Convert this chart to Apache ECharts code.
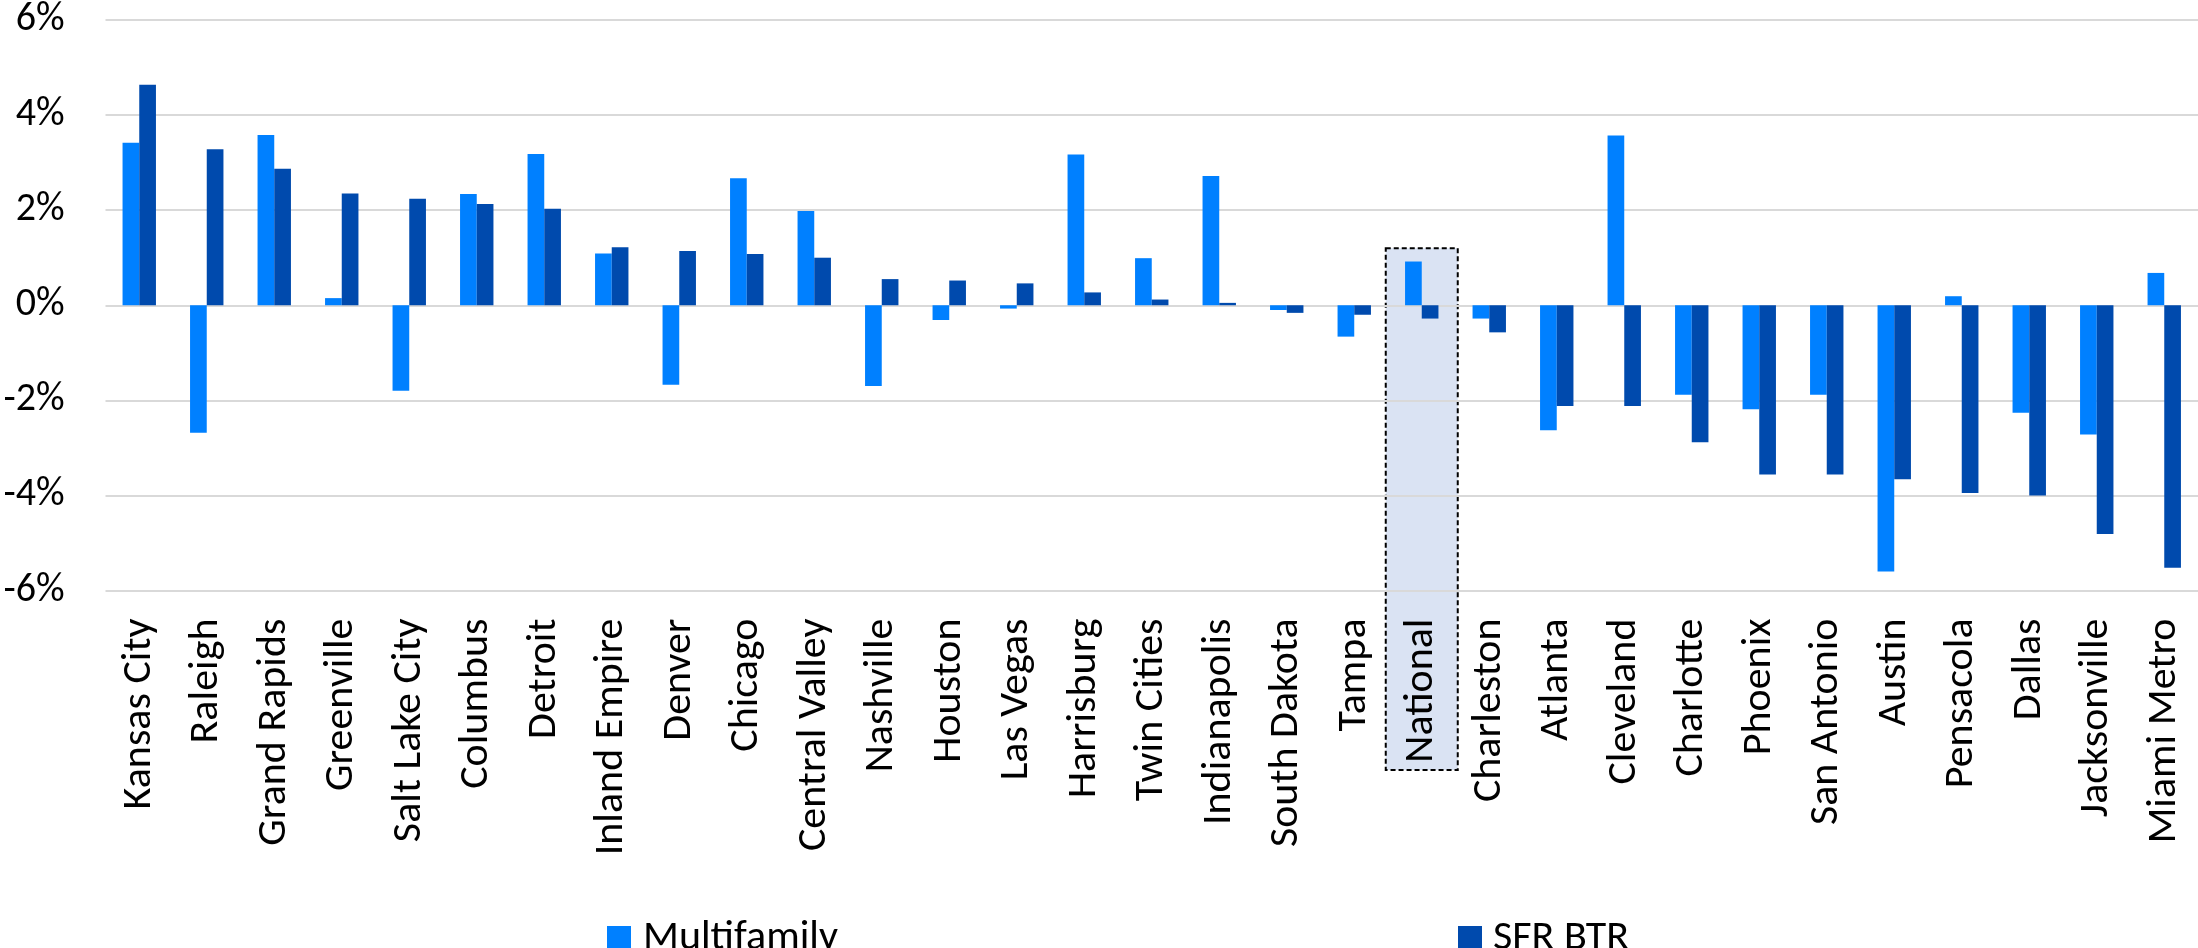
<!DOCTYPE html>
<html>
<head>
<meta charset="utf-8">
<script src="https://cdn.jsdelivr.net/npm/echarts@6/dist/echarts.min.js"></script>
<style>
  html, body { margin: 0; padding: 0; background: #ffffff; }
  #chart { width: 2198px; height: 948px; }
</style>
</head>
<body>
<div id="chart"></div>
<script>
// Markets, ordered as shown along the category axis
const categories = [
  'Kansas City', 'Raleigh', 'Grand Rapids', 'Greenville', 'Salt Lake City',
  'Columbus', 'Detroit', 'Inland Empire', 'Denver', 'Chicago',
  'Central Valley', 'Nashville', 'Houston', 'Las Vegas', 'Harrisburg',
  'Twin Cities', 'Indianapolis', 'South Dakota', 'Tampa', 'National',
  'Charleston', 'Atlanta', 'Cleveland', 'Charlotte', 'Phoenix',
  'San Antonio', 'Austin', 'Pensacola', 'Dallas', 'Jacksonville', 'Miami Metro'
];

// Rent growth, percent
const multifamily = [
  3.42, -2.68, 3.58, 0.15, -1.80,
  2.34, 3.18, 1.09, -1.67, 2.67,
  1.98, -1.70, -0.31, -0.07, 3.17,
  0.99, 2.72, -0.10, -0.66, 0.92,
  -0.28, -2.63, 3.57, -1.88, -2.19,
  -1.88, -5.60, 0.19, -2.26, -2.72, 0.68
];

const sfrBtr = [
  4.64, 3.28, 2.87, 2.35, 2.24,
  2.13, 2.03, 1.22, 1.14, 1.08,
  1.00, 0.55, 0.52, 0.46, 0.27,
  0.12, 0.05, -0.16, -0.20, -0.28,
  -0.57, -2.12, -2.12, -2.88, -3.56,
  -3.56, -3.66, -3.95, -4.00, -4.81, -5.52
];

// Value axis range and step
const yMin = -6;
const yMax = 6;
const yStep = 2;

// Category singled out with a shaded, dashed frame
const highlighted = 'National';
const highlightTop = 1.2;

const FONT = 'Carlito, Lato, "Noto Sans", sans-serif';
const LIGHT = '#0080FF';
const DARK = '#004AAD';

const chart = echarts.init(document.getElementById('chart'), null, { renderer: 'canvas' });

chart.setOption({
  animation: false,
  backgroundColor: '#ffffff',
  textStyle: { fontFamily: FONT },
  grid: { left: 105.5, top: 18.5, width: 2095, bottom: 357.5, containLabel: false },
  legend: [
    {
      data: ['Multifamily'],
      left: 602, top: 912,
      itemWidth: 24, itemHeight: 24,
      icon: 'rect',
      textStyle: { fontFamily: FONT, fontSize: 42, color: '#000', padding: [0, 0, 0, 7] }
    },
    {
      data: ['SFR BTR'],
      left: 1453, top: 912,
      itemWidth: 24, itemHeight: 24,
      icon: 'rect',
      textStyle: { fontFamily: FONT, fontSize: 42, color: '#000', padding: [0, 0, 0, 6] }
    }
  ],
  xAxis: {
    type: 'category',
    data: categories,
    position: 'bottom',
    axisLine: { show: false },
    axisTick: { show: false },
    axisLabel: {
      rotate: 90,
      interval: 0,
      margin: 28,
      fontFamily: FONT,
      fontSize: 42,
      color: '#000'
    }
  },
  yAxis: {
    type: 'value',
    min: yMin,
    max: yMax,
    interval: yStep,
    axisLine: { show: false },
    axisTick: { show: false },
    splitLine: { lineStyle: { color: '#D9D9D9', width: 2 } },
    axisLabel: {
      margin: 41,
      fontFamily: FONT,
      fontSize: 40,
      color: '#000',
      formatter: v => v + '%'
    }
  },
  series: [
    {
      name: 'Multifamily',
      type: 'bar',
      data: multifamily,
      barWidth: 16.7,
      barGap: '0%',
      itemStyle: { color: LIGHT },
      z: 3
    },
    {
      name: 'SFR BTR',
      type: 'bar',
      data: sfrBtr,
      barWidth: 16.7,
      barGap: '0%',
      itemStyle: { color: DARK },
      z: 3
    }
  ]
});

// Shaded frame around the highlighted category, placed from the axis scales
const cx = chart.convertToPixel({ xAxisIndex: 0 }, highlighted);
const topY = chart.convertToPixel({ yAxisIndex: 0 }, highlightTop);
chart.setOption({
  graphic: [
    {
      type: 'rect',
      z: -10,
      shape: { x: cx - 36, y: topY, width: 72, height: 770 - topY },
      style: { fill: '#DAE3F3', stroke: '#000', lineWidth: 2, lineDash: [5, 3] }
    }
  ]
});
</script>
</body>
</html>
